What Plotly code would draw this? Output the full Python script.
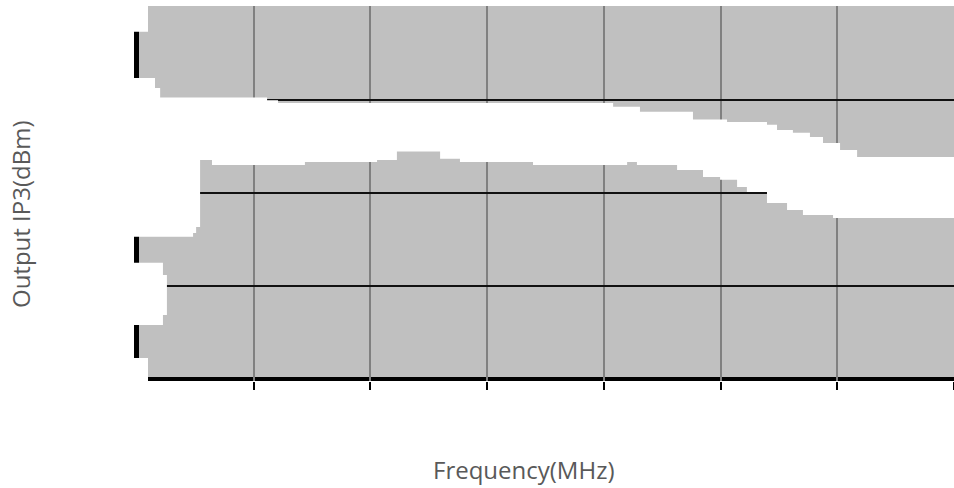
import plotly.graph_objects as go

# ---- data ----
# upper edge of the white band: step starts (MHz) and levels (dBm)
top_freq = [0, 78, 100, 558, 605, 2040, 2155, 2382, 2528, 2699, 2742, 2810, 2883, 2939, 3012, 3085]
top_ip3 = [46.20, 45.66, 45.15, 44.99, 44.85, 44.64, 44.37, 43.96, 43.83, 43.67, 43.40, 43.24, 43.02, 42.70, 42.32, 41.94]

# lower edge of the white band
bot_freq = [0, 241, 254, 271, 322, 720, 1029, 1114, 1299, 1384, 1697, 2100, 2142, 2314, 2425, 2498, 2571, 2613, 2699, 2785, 2853, 2982]
bot_ip3 = [37.64, 37.85, 38.17, 41.78, 41.51, 41.67, 41.78, 42.24, 41.84, 41.67, 41.51, 41.67, 41.51, 41.24, 40.87, 40.71, 40.33, 40.06, 39.47, 39.09, 38.82, 38.66]

# white left edge: level breaks (dBm) and how far the white reaches (MHz) in each row
edge_ip3 = [31.12, 32.90, 33.44, 35.59, 36.24, 48.68]
edge_freq = [48, 0, 112, 129, 112, 0, 48]

freq_ticks = [500, 1000, 1500, 2000, 2500, 3000, 3500]
ip3_grid = [35, 40, 45]
ip3_bottom = [30]
ip3_top = [50]

X_RANGE = [-12, 3500]
Y_RANGE = [29.88, 50.07]


def steps(xs, ys, x_first, x_last):
    px, py = [], []
    starts = [x_first] + xs[1:]
    ends = xs[1:] + [x_last]
    for s, e, v in zip(starts, ends, ys):
        px += [s, e]
        py += [v, v]
    return px, py


lo_x = X_RANGE[0] - 60
hi_x = X_RANGE[1] + 60
tx, ty = steps(top_freq, top_ip3, lo_x, hi_x)
bx, by = steps(bot_freq, bot_ip3, lo_x, hi_x)
band_x = tx + bx[::-1] + [tx[0]]
band_y = ty + by[::-1] + [ty[0]]

bounds = [Y_RANGE[0] - 2] + edge_ip3 + [Y_RANGE[1] + 2]
mask_x, mask_y = [], []
for i, ext in enumerate(edge_freq):
    if ext > 0:
        y0, y1 = bounds[i], bounds[i + 1]
        mask_x += [lo_x, ext, ext, lo_x, lo_x, None]
        mask_y += [y0, y0, y1, y1, y0, None]

fig = go.Figure()
fig.add_trace(go.Scatter(x=band_x, y=band_y, mode="lines", fill="toself",
                         fillcolor="white", line=dict(width=0, color="white"),
                         hoverinfo="skip", showlegend=False))
fig.add_trace(go.Scatter(x=mask_x, y=mask_y, mode="lines", fill="toself",
                         fillcolor="white", line=dict(width=0, color="white"),
                         hoverinfo="skip", showlegend=False))

font = dict(family="Open Sans", size=24, color="#595959")

fig.update_layout(
    width=954, height=488,
    margin=dict(l=134, r=0, t=6, b=107),
    paper_bgcolor="white",
    plot_bgcolor="#c0c0c0",
    showlegend=False,
    xaxis=dict(range=X_RANGE, tickmode="array", tickvals=freq_ticks,
               showticklabels=False, ticks="outside", ticklen=8, tickwidth=2,
               tickcolor="#000000", showgrid=True, gridcolor="#808080", gridwidth=2,
               zeroline=True, zerolinecolor="#000000", zerolinewidth=4.5,
               showline=False),
    yaxis=dict(range=Y_RANGE, tickmode="array", tickvals=ip3_grid,
               showticklabels=False, ticks="", showgrid=True,
               gridcolor="#111111", gridwidth=2, zeroline=False, showline=False,
               minor=dict(tickmode="array", tickvals=ip3_bottom, showgrid=True,
                          gridcolor="#000000", gridwidth=3.5, ticks="")),
    yaxis2=dict(range=Y_RANGE, overlaying="y", anchor="x", side="left",
                tickmode="array", tickvals=ip3_top, showticklabels=False, ticks="",
                showgrid=True, gridcolor="#7f7f7f", gridwidth=2, zeroline=False,
                showline=False),
    annotations=[
        dict(text="Frequency(MHz)", xref="paper", yref="paper", x=0.475, y=-0.2373,
             xanchor="center", yanchor="middle", showarrow=False, font=font),
        dict(text="Output IP3(dBm)", xref="paper", yref="paper", x=-0.139, y=0.4453,
             xanchor="center", yanchor="middle", textangle=-90, showarrow=False, font=font),
    ],
)

fig.write_html("out.html", config={"displayModeBar": False},
               post_script="document.body.style.margin='0px';document.body.style.overflow='hidden';")
